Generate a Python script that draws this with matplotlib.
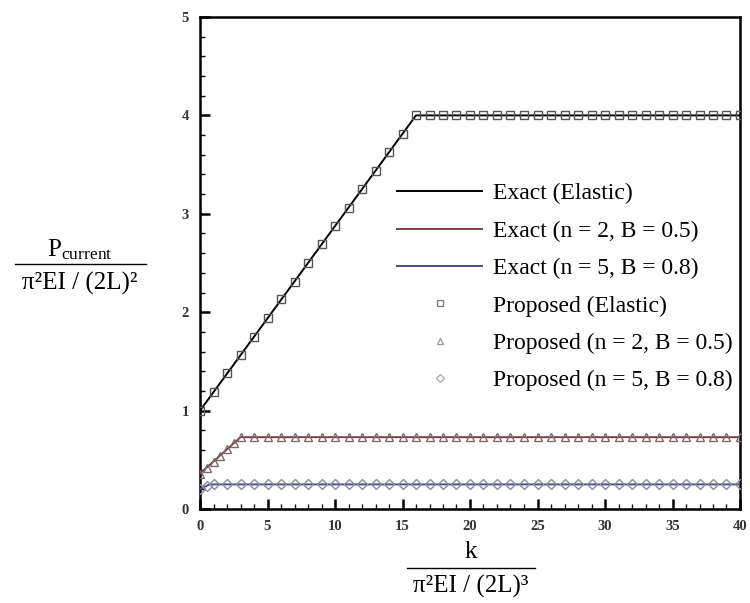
import matplotlib
matplotlib.use("Agg")
import matplotlib.pyplot as plt
from matplotlib.lines import Line2D

plt.rcParams['font.family'] = ['Liberation Serif', 'DejaVu Serif']
plt.rcParams['mathtext.fontset'] = 'custom'
plt.rcParams['mathtext.rm'] = 'Liberation Serif'
plt.rcParams['mathtext.it'] = 'Liberation Serif:italic'

# exact solutions (piecewise linear)
k_exact_el = [0, 16, 40]
p_exact_el = [1.0, 4.0, 4.0]
k_exact_n2 = [0, 3, 40]
p_exact_n2 = [0.36, 0.73, 0.73]
k_exact_n5 = [0, 0.7, 40]
p_exact_n5 = [0.20, 0.25, 0.25]

# proposed method points
k_prop_el = [0, 1, 2, 3, 4, 5, 6, 7, 8, 9, 10, 11, 12, 13, 14, 15, 16, 17, 18, 19, 20,
             21, 22, 23, 24, 25, 26, 27, 28, 29, 30, 31, 32, 33, 34, 35, 36, 37, 38, 39, 40]
p_prop_el = [1.00, 1.19, 1.38, 1.56, 1.75, 1.94, 2.13, 2.31, 2.50, 2.69, 2.88, 3.06, 3.25,
             3.44, 3.63, 3.81, 4.00, 4.00, 4.00, 4.00, 4.00, 4.00, 4.00, 4.00, 4.00, 4.00,
             4.00, 4.00, 4.00, 4.00, 4.00, 4.00, 4.00, 4.00, 4.00, 4.00, 4.00, 4.00, 4.00,
             4.00, 4.00]
k_prop_n2 = [0, 0.5, 1, 1.5, 2, 2.5, 3, 4, 5, 6, 7, 8, 9, 10, 11, 12, 13, 14, 15, 16, 17,
             18, 19, 20, 21, 22, 23, 24, 25, 26, 27, 28, 29, 30, 31, 32, 33, 34, 35, 36,
             37, 38, 39, 40]
p_prop_n2 = [0.36, 0.42, 0.48, 0.54, 0.61, 0.67, 0.73, 0.73, 0.73, 0.73, 0.73, 0.73, 0.73,
             0.73, 0.73, 0.73, 0.73, 0.73, 0.73, 0.73, 0.73, 0.73, 0.73, 0.73, 0.73, 0.73,
             0.73, 0.73, 0.73, 0.73, 0.73, 0.73, 0.73, 0.73, 0.73, 0.73, 0.73, 0.73, 0.73,
             0.73, 0.73, 0.73, 0.73, 0.73]
k_prop_n5 = [0, 0.5, 1, 2, 3, 4, 5, 6, 7, 8, 9, 10, 11, 12, 13, 14, 15, 16, 17, 18, 19, 20,
             21, 22, 23, 24, 25, 26, 27, 28, 29, 30, 31, 32, 33, 34, 35, 36, 37, 38, 39, 40]
p_prop_n5 = [0.20, 0.235, 0.25, 0.25, 0.25, 0.25, 0.25, 0.25, 0.25, 0.25, 0.25, 0.25, 0.25,
             0.25, 0.25, 0.25, 0.25, 0.25, 0.25, 0.25, 0.25, 0.25, 0.25, 0.25, 0.25, 0.25,
             0.25, 0.25, 0.25, 0.25, 0.25, 0.25, 0.25, 0.25, 0.25, 0.25, 0.25, 0.25, 0.25,
             0.25, 0.25, 0.25]

labels = ["Exact (Elastic)", "Exact (n = 2, B = 0.5)", "Exact (n = 5, B = 0.8)",
          "Proposed (Elastic)", "Proposed (n = 2, B = 0.5)", "Proposed (n = 5, B = 0.8)"]

C_N2 = '#7d3f44'
C_N5 = '#4b4f86'

fig = plt.figure(figsize=(7.5, 6.03), dpi=100)
ax = fig.add_axes([200/750, 1-509/603, 540/750, 492/603])

ax.plot(k_exact_el, p_exact_el, color='black', lw=1.4, zorder=3)
ax.plot(k_exact_n2, p_exact_n2, color=C_N2, lw=1.4, zorder=3)
ax.plot(k_exact_n5, p_exact_n5, color=C_N5, lw=1.4, zorder=3)

ax.plot(k_prop_el, p_prop_el, ls='none', marker='s', ms=6.3, mfc='none',
        mec='#555555', mew=1.0, zorder=4)
ax.plot(k_prop_n2, p_prop_n2, ls='none', marker='^', ms=6.3, mfc='none',
        mec='#7a6a6e', mew=1.0, zorder=4)
ax.plot(k_prop_n5, p_prop_n5, ls='none', marker='D', ms=5.0, mfc='none',
        mec='#8a8aa0', mew=1.0, zorder=4)

ax.set_xlim(0, 40)
ax.set_ylim(0, 5)
ax.set_xticks([0, 5, 10, 15, 20, 25, 30, 35, 40])
ax.set_xticks(range(0, 41), minor=True)
ax.set_yticks([0, 1, 2, 3, 4, 5])
ax.set_yticks([i * 0.2 for i in range(26)], minor=True)
ax.tick_params(which='major', direction='in', length=7, width=1.8,
               top=False, right=False, labelsize=10.5, pad=8)
ax.tick_params(which='minor', direction='in', length=3.5, width=1.0,
               top=False, right=False)
for lab in ax.get_xticklabels() + ax.get_yticklabels():
    lab.set_fontweight('bold')
    lab.set_color('#333333')
for sp in ax.spines.values():
    sp.set_linewidth(1.8)

# legend, no frame
handles = [
    Line2D([], [], color='black', lw=1.4),
    Line2D([], [], color=C_N2, lw=1.4),
    Line2D([], [], color=C_N5, lw=1.4),
    Line2D([], [], ls='none', marker='s', ms=5, mfc='none', mec='#777777', mew=0.9),
    Line2D([], [], ls='none', marker='^', ms=5, mfc='none', mec='#999999', mew=0.9),
    Line2D([], [], ls='none', marker='D', ms=4.2, mfc='none', mec='#aaaaaa', mew=0.9),
]
ax.legend(handles, labels, loc='upper left', bbox_to_anchor=(397/750, 1-183/603),
          bbox_transform=fig.transFigure, frameon=False, fontsize=17,
          handlelength=3.6, handletextpad=0.45, labelspacing=0.67,
          borderpad=0, borderaxespad=0)

# axis labels drawn as fractions
fig.text(471/750, 1-552/603, "k", ha='center', va='center', fontsize=18)
fig.add_artist(Line2D([407/750, 535/750], [1-568/603, 1-568/603],
                      color='black', lw=1.0, transform=fig.transFigure))
fig.text(471/750, 1-586/603, "π²EI / (2L)³", ha='center', va='center', fontsize=18)

fig.text(80/750, 1-250/603, r"P$_{\mathrm{current}}$", ha='center', va='center', fontsize=18)
fig.add_artist(Line2D([15/750, 146/750], [1-264/603, 1-264/603],
                      color='black', lw=1.0, transform=fig.transFigure))
fig.text(80/750, 1-283/603, "π²EI / (2L)²", ha='center', va='center', fontsize=18)

fig.savefig('out.png', dpi=100)
